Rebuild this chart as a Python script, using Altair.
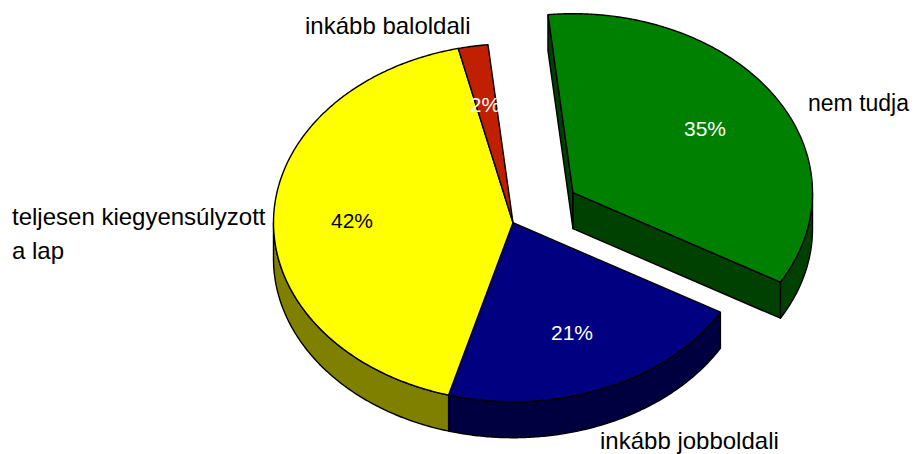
import math
import altair as alt
import pandas as pd

# chart values
categories = ["nem tudja", "inkább jobboldali", "teljesen kiegyensúlyzott", "inkább baloldali"]
shares = [35, 21, 42, 2]
share_labels = ["35%", "21%", "42%", "2%"]
top_colors = ["#008000", "#000080", "#ffff00", "#c02000"]
side_colors = ["#004000", "#000040", "#808000", "#602000"]

# pie geometry, in page pixels
CX, CY, RX, RY, DEPTH = 513.0, 222.7, 239.5, 179.0, 36.0
START = -6.0
EXPLODE = {0: (60.0, -30.0)}

W, H = 904, 446
xs = alt.Scale(domain=[8, 8 + W], range=[0, W], nice=False, zero=False)
ys = alt.Scale(domain=[8, 8 + H], range=[0, H], nice=False, zero=False)


def rim(a0, a1, off, dy=0.0):
    n = max(2, int(abs(a1 - a0) * 2))
    pts = []
    for k in range(n + 1):
        t = math.radians(a0 + (a1 - a0) * k / n)
        pts.append((CX + off[0] + RX * math.sin(t), CY + off[1] - RY * math.cos(t) + dy))
    return pts


def shape(points, fill):
    pts = list(points) + [points[0]]
    df = pd.DataFrame({"x": [p[0] for p in pts], "y": [p[1] for p in pts], "i": range(len(pts))})
    return alt.Chart(df).mark_line(
        fill=fill, stroke="#000000", strokeWidth=1.4, strokeJoin="round", clip=False
    ).encode(
        x=alt.X("x:Q", scale=xs, axis=None),
        y=alt.Y("y:Q", scale=ys, axis=None),
        order=alt.Order("i:Q"),
    )


# slice angles follow from the shares
edges = [START]
for s in shares:
    edges.append(edges[-1] + s * 3.6)

layers = []
faces = []
for idx, s in enumerate(shares):
    a0, a1 = edges[idx], edges[idx + 1]
    off = EXPLODE.get(idx, (0.0, 0.0))
    apex = (CX + off[0], CY + off[1])
    # outer wall: only the part of the rim on the viewer's side (90..270 degrees)
    v0, v1 = max(a0, 90.0), min(a1, 270.0)
    if v1 > v0:
        top = rim(v0, v1, off)
        bot = rim(v1, v0, off, DEPTH)
        layers.append(shape(top + bot, side_colors[idx]))
    if idx == 0:
        # cut faces of the exploded slice
        p0 = rim(a0, a0, off)[0]
        p1 = rim(a1, a1, off)[0]
        layers.append(shape([p0, apex, (apex[0], apex[1] + DEPTH), (p0[0], p0[1] + DEPTH)], side_colors[idx]))
        layers.append(shape([p1, apex, (apex[0], apex[1] + DEPTH), (p1[0], p1[1] + DEPTH)], side_colors[idx]))
    faces.append(shape([apex] + rim(a0, a1, off), top_colors[idx]))

FONT = "Liberation Sans"
value_df = pd.DataFrame({
    "t": share_labels,
    "x": [705, 572, 352, 485],
    "y": [130, 334, 222, 106],
    "c": ["#ffffff", "#ffffff", "#000000", "#ffffff"],
})
values = alt.Chart(value_df).mark_text(font=FONT, fontSize=21, align="center", baseline="middle").encode(
    x=alt.X("x:Q", scale=xs, axis=None),
    y=alt.Y("y:Q", scale=ys, axis=None),
    text="t:N",
    color=alt.Color("c:N", scale=None),
)

name_df = pd.DataFrame({
    "t": [categories[1], categories[2], "a lap", categories[3]],
    "x": [600, 12, 12, 305],
    "y": [442, 218, 252, 27],
})
names = alt.Chart(name_df).mark_text(font=FONT, fontSize=24, align="left", baseline="middle", color="#000000").encode(
    x=alt.X("x:Q", scale=xs, axis=None),
    y=alt.Y("y:Q", scale=ys, axis=None),
    text="t:N",
)
# the page's drawing area ends at x = 912, so this label sits a little further left and smaller
right_df = pd.DataFrame({"t": [categories[0]], "x": [808], "y": [104]})
right_name = alt.Chart(right_df).mark_text(font=FONT, fontSize=23, align="left", baseline="middle", color="#000000").encode(
    x=alt.X("x:Q", scale=xs, axis=None),
    y=alt.Y("y:Q", scale=ys, axis=None),
    text="t:N",
)

chart = alt.layer(*layers, *faces, values, names, right_name).properties(
    width=W, height=H, padding=0, autosize=alt.AutoSizeParams(type="none"),
).configure_view(stroke=None).resolve_scale(color="independent")

chart.save("out.html", embed_options={"renderer": "svg", "actions": False})
